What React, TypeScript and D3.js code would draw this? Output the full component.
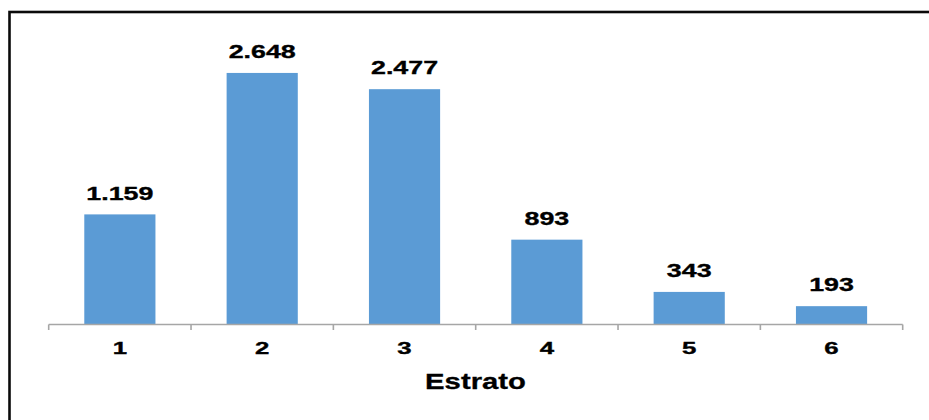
import React from "react";
import * as d3 from "d3";

const categories = ["1", "2", "3", "4", "5", "6"];
const values = [1159, 2648, 2477, 893, 343, 193];
const axisTitle = "Estrato";

const W = 929;
const H = 420;
const margin = { left: 48.7, right: 26.3, top: 39.5, bottom: 95.5 };

const locale = d3.formatLocale({ decimal: ",", thousands: ".", grouping: [3], currency: ["$", ""] });
const fmt = locale.format(",d");

export default function App() {
  const x = d3
    .scaleBand<string>()
    .domain(categories)
    .range([margin.left, W - margin.right])
    .paddingInner(0.5)
    .paddingOuter(0.25);
  const band = d3.scaleBand<string>().domain(categories).range([margin.left, W - margin.right]);
  const y = d3.scaleLinear().domain([0, 3000]).range([H - margin.bottom, margin.top]);
  const y0 = y(0);
  const font = "'Liberation Sans', Arial, sans-serif";
  const blue = "#5B9BD5";
  const ticks = [...categories.map((c) => band(c)!), W - margin.right];

  return (
    <svg width={W} height={H} style={{ position: "absolute", left: 0, top: 0, background: "#fff" }}>
      <rect x={0} y={0} width={W} height={H} fill="#fff" />
      <rect x={9.5} y={12} width={W + 20} height={H + 20} fill="none" stroke="#0a0a0a" strokeWidth={2.6} />
      {categories.map((c, i) => (
        <rect key={c} x={x(c)} y={y(values[i])} width={x.bandwidth()} height={y0 - y(values[i])} fill={blue} />
      ))}
      <line x1={margin.left} x2={W - margin.right} y1={y0} y2={y0} stroke="#a6a6a6" strokeWidth={1.6} />
      {ticks.map((t, i) => (
        <line key={i} x1={t} x2={t} y1={y0} y2={y0 + 5.5} stroke="#a6a6a6" strokeWidth={1.6} />
      ))}
      {categories.map((c, i) => {
        const cx = x(c)! + x.bandwidth() / 2;
        const ty = y(values[i]) - 14.7;
        return (
          <text
            key={"v" + c}
            transform={`translate(${cx},${ty}) scale(1.45,1)`}
            textAnchor="middle"
            fontFamily={font}
            fontWeight="bold"
            fontSize={18.5}
            fill="#000"
            stroke="#000"
            strokeWidth={0.35}
          >
            {fmt(values[i])}
          </text>
        );
      })}
      {categories.map((c) => {
        const cx = x(c)! + x.bandwidth() / 2;
        return (
          <text
            key={"t" + c}
            transform={`translate(${cx},${354}) scale(1.5,1)`}
            textAnchor="middle"
            fontFamily={font}
            fontWeight="bold"
            fontSize={17.2}
            fill="#000"
            stroke="#000"
            strokeWidth={0.35}
          >
            {c}
          </text>
        );
      })}
      <text
        transform={`translate(${475.5},${389.3}) scale(1.33,1)`}
        textAnchor="middle"
        fontFamily={font}
        fontWeight="bold"
        fontSize={22}
        fill="#000"
        stroke="#000"
        strokeWidth={0.3}
      >
        {axisTitle}
      </text>
    </svg>
  );
}
